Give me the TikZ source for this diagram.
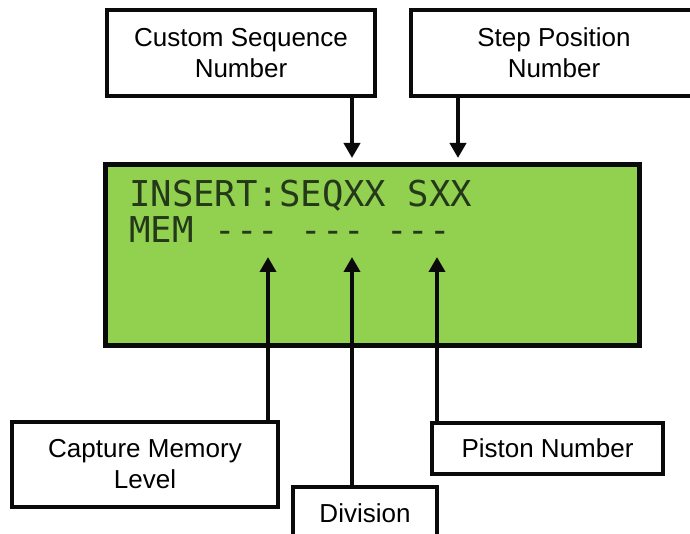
\documentclass[tikz,border=0pt]{standalone}
\usepackage{fontspec}
\setmainfont{Liberation Sans}
\newfontfamily\lcdfont{DejaVu Sans Mono}
\usetikzlibrary{arrows.meta}
\definecolor{lcdgreen}{HTML}{92D050}
\definecolor{lcdink}{HTML}{24381A}
\definecolor{boxline}{HTML}{0A0A0A}

\begin{document}
\begin{tikzpicture}[x=1pt, y=-1pt,
  label box/.style={draw=boxline, line width=4pt, fill=white, inner sep=0pt,
    align=center, font=\fontsize{26}{31}\selectfont},
  pointer/.style={boxline, line width=4pt,
    -{Triangle[length=15pt, width=16pt]}},
  lcd text/.style={anchor=base west, inner sep=0pt, text=lcdink,
    font=\lcdfont\fontsize{35.6}{40}\selectfont}]

\useasboundingbox (0,0) rectangle (690,534);

% ================================================================
% LCD panel
% ================================================================
\node[draw=boxline, line width=5pt, fill=lcdgreen, inner sep=0pt,
      minimum width=534pt, minimum height=180pt] (lcd) at (372,255) {};
\node[lcd text] (row1) at (129,207) {INSERT:SEQXX SXX};
\node[lcd text] (row2) at (129,243) {MEM --- --- ---};

% ================================================================
% Top labels
% ================================================================
\node[label box, minimum width=268pt, minimum height=86pt] (custom) at (241,53)
  {Custom Sequence\\Number};
\node[label box, minimum width=286pt, minimum height=86pt] (steppos) at (554,53)
  {Step Position\\Number};

% Arrow tips on the panel
\coordinate (seqtip) at (352,158);
\coordinate (steptip) at (458,158);

\draw[pointer] (custom.south -| seqtip) -- (seqtip);
\draw[pointer] (steppos.south -| steptip) -- (steptip);

% ================================================================
% Bottom labels
% ================================================================
\node[label box, minimum width=266pt, minimum height=85pt] (capture) at (145,464.5)
  {Capture Memory\\Level};
\node[label box, minimum width=144pt, minimum height=53pt] (division) at (365,513.5)
  {Division};
\node[label box, minimum width=231pt, minimum height=51pt] (piston) at (547.5,448.5)
  {Piston Number};

% Arrow tips under the dashes
\coordinate (memtip) at (268,257);
\coordinate (divtip) at (352,257);
\coordinate (pistip) at (437,257);

\draw[pointer] (capture.north -| memtip) -- (memtip);
\draw[pointer] (division.north -| divtip) -- (divtip);
\draw[pointer] (piston.north -| pistip) -- (pistip);

\end{tikzpicture}
\end{document}
